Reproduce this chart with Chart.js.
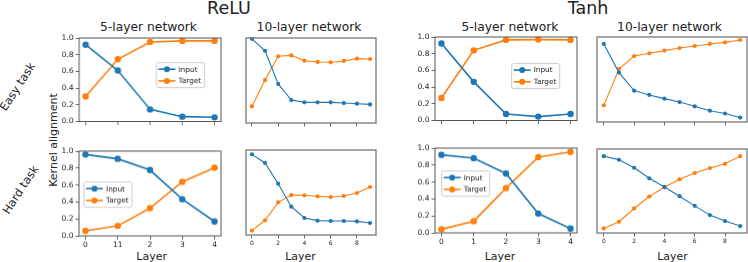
<!DOCTYPE html>
<html>
<head>
<meta charset="utf-8">
<script src="https://cdn.jsdelivr.net/npm/chart.js@4.4.1/dist/chart.umd.min.js"></script>
<style>
  body { margin: 0; width: 748px; height: 262px; background: #fff; position: relative; overflow: hidden; font-family: "DejaVu Sans", sans-serif; color: #222; }
  canvas { position: absolute; }
  .txt { position: absolute; white-space: nowrap; line-height: 1; transform: translate(-50%, -50%); }
</style>
</head>
<body>

<div class="txt" style="left:229px; top:8.5px; font-size:17.5px;">ReLU</div>
<div class="txt" style="left:588px; top:8.5px; font-size:17.5px;">Tanh</div>
<div class="txt" style="left:148.5px; top:26.5px; font-size:12.3px;">5-layer network</div>
<div class="txt" style="left:309px; top:26.5px; font-size:12.3px;">10-layer network</div>
<div class="txt" style="left:510px; top:26.5px; font-size:12.3px;">5-layer network</div>
<div class="txt" style="left:669.5px; top:26.5px; font-size:12.3px;">10-layer network</div>
<div class="txt" style="left:17.5px; top:86.5px; font-size:11.5px; transform: translate(-50%,-50%) rotate(-57deg);">Easy task</div>
<div class="txt" style="left:21px; top:190px; font-size:11.5px; transform: translate(-50%,-50%) rotate(-57deg);">Hard task</div>
<div class="txt" style="left:53px; top:140px; font-size:11px; transform: translate(-50%,-50%) rotate(-90deg);">Kernel alignment</div>
<div class="txt" style="left:151.7px; top:255.5px; font-size:11px;">Layer</div>
<div class="txt" style="left:300.5px; top:255.5px; font-size:11px;">Layer</div>
<div class="txt" style="left:500px; top:255.5px; font-size:11px;">Layer</div>
<div class="txt" style="left:672.5px; top:255.5px; font-size:11px;">Layer</div>

<canvas id="c1"></canvas>
<canvas id="c2"></canvas>
<canvas id="c3"></canvas>
<canvas id="c4"></canvas>
<canvas id="c5"></canvas>
<canvas id="c6"></canvas>
<canvas id="c7"></canvas>
<canvas id="c8"></canvas>

<script>
// layers and tick labels
const layers5 = [0, 1, 2, 3, 4];
const layers10 = [0, 1, 2, 3, 4, 5, 6, 7, 8, 9];
const xTicks5 = [0, 1, 2, 3, 4];
const xTickLabelsRelu5 = ['0', '11', '2', '3', '4'];
const xTickLabelsTanh5 = ['0', '1', '2', '3', '4'];
const xTicks10 = [0, 2, 4, 6, 8];
const xTickLabels10 = ['0', '2', '4', '6', '8'];
const yTicks = [0, 0.2, 0.4, 0.6, 0.8, 1.0];
const yTickLabels = ['0.0', '0.2', '0.4', '0.6', '0.8', '1.0'];
const seriesNames = ['Input', 'Target'];

// kernel alignment values
const reluEasy5Input = [0.92, 0.61, 0.145, 0.058, 0.05];
const reluEasy5Target = [0.30, 0.745, 0.953, 0.965, 0.965];
const reluEasy10Input = [0.99, 0.85, 0.46, 0.27, 0.243, 0.243, 0.243, 0.235, 0.227, 0.219];
const reluEasy10Target = [0.195, 0.505, 0.785, 0.795, 0.733, 0.718, 0.714, 0.73, 0.757, 0.753];
const tanhEasy5Input = [0.922, 0.463, 0.078, 0.047, 0.078];
const tanhEasy5Target = [0.27, 0.84, 0.965, 0.969, 0.965];
const tanhEasy10Input = [0.918, 0.581, 0.369, 0.318, 0.275, 0.235, 0.185, 0.133, 0.10, 0.052];
const tanhEasy10Target = [0.196, 0.624, 0.776, 0.808, 0.84, 0.87, 0.894, 0.918, 0.937, 0.965];
const reluHard5Input = [0.96, 0.909, 0.776, 0.433, 0.17];
const reluHard5Target = [0.059, 0.118, 0.327, 0.638, 0.803];
const reluHard10Input = [0.949, 0.847, 0.604, 0.333, 0.2, 0.169, 0.165, 0.165, 0.16, 0.141];
const reluHard10Target = [0.051, 0.173, 0.384, 0.47, 0.467, 0.455, 0.447, 0.459, 0.494, 0.565];
const tanhHard5Input = [0.921, 0.882, 0.70, 0.228, 0.051];
const tanhHard5Target = [0.043, 0.138, 0.528, 0.894, 0.956];
const tanhHard10Input = [0.915, 0.872, 0.777, 0.651, 0.548, 0.438, 0.323, 0.213, 0.142, 0.083];
const tanhHard10Target = [0.055, 0.134, 0.292, 0.434, 0.544, 0.639, 0.714, 0.773, 0.824, 0.915];

const BLUE = '#1f77b4';
const ORANGE = '#ff7f0e';
const FONT = '"DejaVu Sans", sans-serif';

// box around the plot area, like matplotlib spines
const framePlugin = {
  id: 'frame',
  afterDatasetsDraw(chart, args, o) {
    const a = chart.chartArea;
    const ctx = chart.ctx;
    ctx.save();
    ctx.strokeStyle = o.color;
    ctx.lineWidth = o.width;
    ctx.strokeRect(a.left, a.top, a.right - a.left, a.bottom - a.top);
    ctx.restore();
  }
};

// legend box inside the plot area
const boxLegendPlugin = {
  id: 'boxLegend',
  afterDraw(chart, args, o) {
    if (o.dx === undefined) return;
    const ctx = chart.ctx;
    const a = chart.chartArea;
    const x = a.left + o.dx, y = a.top + o.dy;
    ctx.save();
    ctx.beginPath();
    ctx.roundRect(x, y, 48, 25, 2);
    ctx.fillStyle = 'rgba(255,255,255,0.85)';
    ctx.fill();
    ctx.strokeStyle = '#cccccc';
    ctx.lineWidth = 1;
    ctx.stroke();
    chart.data.datasets.forEach((ds, i) => {
      const ry = y + 6.5 + i * 11.7;
      ctx.strokeStyle = ds.borderColor;
      ctx.lineWidth = 1.6;
      ctx.beginPath();
      ctx.moveTo(x + 2, ry);
      ctx.lineTo(x + 19, ry);
      ctx.stroke();
      ctx.fillStyle = ds.borderColor;
      ctx.beginPath();
      ctx.arc(x + 10.5, ry, 3, 0, Math.PI * 2);
      ctx.fill();
      ctx.fillStyle = '#222';
      ctx.font = '7.3px ' + FONT;
      ctx.textBaseline = 'middle';
      ctx.fillText(ds.label, x + 22, ry + 0.5);
    });
    ctx.restore();
  }
};

function makePanel(id, rect, layers, input, target, p) {
  const padL = 6, padT = 7, padR = 7;
  const yW = p.yLabels ? 22 : 0;
  const xH = p.xLabels ? 14 : 5;
  const canvas = document.getElementById(id);
  const w = padL + yW + (rect.R - rect.L) + padR;
  const h = padT + (rect.B - rect.T) + xH;
  canvas.width = w;
  canvas.height = h;
  canvas.style.width = w + 'px';
  canvas.style.height = h + 'px';

  const mk = (name, vals, color) => ({
    label: name,
    data: layers.map((x, i) => ({ x: x, y: vals[i] })),
    borderColor: color,
    backgroundColor: color,
    borderWidth: p.lw,
    pointRadius: p.pr,
    pointBorderWidth: 0,
    pointBackgroundColor: color,
    tension: 0,
    clip: false
  });

  const chart = new Chart(canvas, {
    type: 'line',
    data: { datasets: [mk(seriesNames[0], input, BLUE), mk(seriesNames[1], target, ORANGE)] },
    plugins: [framePlugin, boxLegendPlugin],
    options: {
      responsive: false,
      animation: false,
      devicePixelRatio: 1,
      layout: { padding: { left: padL, top: padT, right: padR, bottom: 0 } },
      plugins: {
        legend: { display: false },
        tooltip: { enabled: false },
        frame: { color: p.frameColor, width: p.frameWidth },
        boxLegend: p.legend || {}
      },
      scales: {
        x: {
          type: 'linear',
          min: p.xMin, max: p.xMax,
          afterBuildTicks: s => { s.ticks = p.xTicks.map(v => ({ value: v })); },
          afterFit: s => { s.height = xH; },
          grid: { drawOnChartArea: false, drawTicks: true, tickLength: 3.5, tickColor: '#444', lineWidth: 0.8 },
          border: { display: false },
          ticks: {
            display: p.xLabels,
            autoSkip: false, maxRotation: 0, padding: 1.5,
            color: '#222',
            font: { family: FONT, size: p.xFont },
            callback: v => p.xTickLabels[p.xTicks.indexOf(v)]
          }
        },
        y: {
          type: 'linear',
          display: p.yLabels,
          min: 0, max: 1,
          afterBuildTicks: s => { s.ticks = yTicks.map(v => ({ value: v })); },
          afterFit: s => { s.width = yW; },
          grid: { drawOnChartArea: false, drawTicks: true, tickLength: 3.5, tickColor: '#444', lineWidth: 0.8 },
          border: { display: false },
          ticks: {
            padding: 2,
            color: '#222',
            font: { family: FONT, size: 7.5 },
            callback: v => yTickLabels[yTicks.indexOf(v)]
          }
        }
      }
    }
  });
  // line the plot area up with the target rectangle
  const a = chart.chartArea;
  canvas.style.left = (rect.L - a.left) + 'px';
  canvas.style.top = (rect.T - a.top) + 'px';
  return chart;
}

const small = { xTicks: xTicks5, xMin: -0.2, xMax: 4.2, lw: 1.6, pr: 3.2, xFont: 7.5, frameColor: '#555', frameWidth: 1 };
const large = { xTicks: xTicks10, xTickLabels: xTickLabels10, xMin: -0.45, xMax: 9.45, lw: 1.1, pr: 2.1, xFont: 6, frameColor: '#777', frameWidth: 1.3 };

makePanel('c1', { L: 79, T: 38, R: 220.5, B: 123 }, layers5, reluEasy5Input, reluEasy5Target,
  Object.assign({}, small, { xTickLabels: xTickLabelsRelu5, yLabels: true, xLabels: false, legend: { dx: 76.7, dy: 24.7 } }));
makePanel('c2', { L: 246, T: 37.5, R: 376, B: 122.5 }, layers10, reluEasy10Input, reluEasy10Target,
  Object.assign({}, large, { yLabels: false, xLabels: false }));
makePanel('c3', { L: 435, T: 36.7, R: 577, B: 121.7 }, layers5, tanhEasy5Input, tanhEasy5Target,
  Object.assign({}, small, { xTickLabels: xTickLabelsTanh5, yLabels: true, xLabels: false, legend: { dx: 76.7, dy: 26.6 } }));
makePanel('c4', { L: 597, T: 36.7, R: 747, B: 121.7 }, layers10, tanhEasy10Input, tanhEasy10Target,
  Object.assign({}, large, { yLabels: false, xLabels: false }));
makePanel('c5', { L: 79, T: 151, R: 221, B: 235.7 }, layers5, reluHard5Input, reluHard5Target,
  Object.assign({}, small, { xTickLabels: xTickLabelsRelu5, yLabels: true, xLabels: true, legend: { dx: 5, dy: 30.7 } }));
makePanel('c6', { L: 246, T: 150, R: 376, B: 235 }, layers10, reluHard10Input, reluHard10Target,
  Object.assign({}, large, { yLabels: false, xLabels: true }));
makePanel('c7', { L: 435, T: 148.3, R: 577, B: 233 }, layers5, tanhHard5Input, tanhHard5Target,
  Object.assign({}, small, { xTickLabels: xTickLabelsTanh5, yLabels: true, xLabels: true, legend: { dx: 6.7, dy: 22.7 } }));
makePanel('c8', { L: 597, T: 148.5, R: 747, B: 233 }, layers10, tanhHard10Input, tanhHard10Target,
  Object.assign({}, large, { yLabels: false, xLabels: true }));
</script>
</body>
</html>
